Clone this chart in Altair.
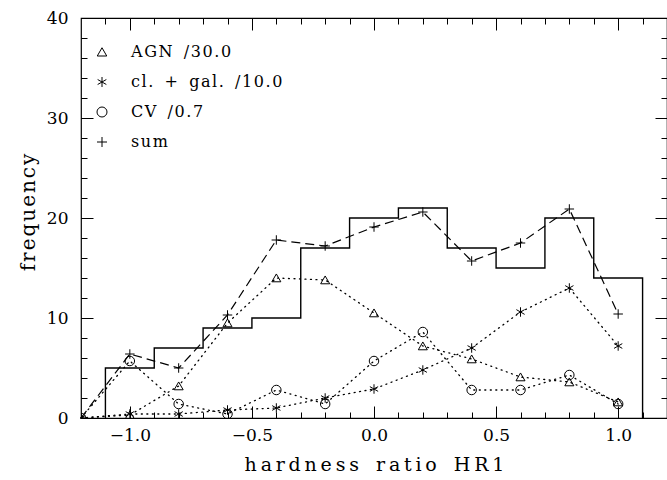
import altair as alt
import pandas as pd

# Hardness-ratio sampling points for the class curves
hr = [-1.2, -1.0, -0.8, -0.6, -0.4, -0.2, 0.0, 0.2, 0.4, 0.6, 0.8, 1.0]
agn = [0.0, 0.3, 3.2, 9.5, 14.0, 13.8, 10.5, 7.2, 5.9, 4.1, 3.6, 1.6]
clgal = [0.0, 0.4, 0.4, 0.8, 1.0, 2.0, 2.9, 4.8, 7.0, 10.6, 13.0, 7.2]
cv = [0.0, 5.7, 1.4, 0.4, 2.8, 1.4, 5.7, 8.6, 2.8, 2.8, 4.3, 1.4]
total = [0.0, 6.4, 5.0, 10.3, 17.8, 17.2, 19.1, 20.6, 15.7, 17.5, 20.9, 10.4]

# Observed histogram: bin edges and counts
edges = [-1.1, -0.9, -0.7, -0.5, -0.3, -0.1, 0.1, 0.3, 0.5, 0.7, 0.9, 1.1]
counts = [5, 7, 9, 10, 17, 20, 21, 17, 15, 20, 14]

series_names = ["AGN /30.0", "cl. + gal. /10.0", "CV /0.7", "sum"]

FONT = "DejaVu Serif"


def spaced(text, gap="\u2009", word="\u2002"):
    """Widen the tracking of a label: small gaps between letters, wide ones between words."""
    return gap.join(word if ch == " " else ch for ch in text)


labels = [spaced(s, "\u200a") for s in series_names]

# Outline of the histogram as a step line
hist_rows = [{"i": 0, "x": edges[0], "y": 0}]
for k, c in enumerate(counts):
    hist_rows.append({"i": k + 1, "x": edges[k], "y": c})
hist_rows.append({"i": len(counts) + 1, "x": edges[-1], "y": counts[-1]})
hist_rows.append({"i": len(counts) + 2, "x": edges[-1], "y": 0})
hist_df = pd.DataFrame(hist_rows)

rows = []
for name, vals in zip(labels, [agn, clgal, cv, total]):
    for x, y in zip(hr, vals):
        rows.append({"series": name, "x": x, "y": y})
curves = pd.DataFrame(rows)
SUM = labels[3]

xs = alt.Scale(domain=[-1.2, 1.2], nice=False, zero=False)
ys = alt.Scale(domain=[0, 40], nice=False, zero=True)

x_major = [-1.0, -0.5, 0.0, 0.5, 1.0]
x_minor = [round(-1.1 + 0.1 * k, 1) for k in range(23)]
y_major = [0, 10, 20, 30, 40]
y_minor = list(range(0, 41, 2))

common = dict(domain=False, grid=False, tickColor="black", tickWidth=1)

ax_bottom = alt.Axis(orient="bottom", values=x_major, format=".1f", offset=-12,
                     tickSize=12, labelPadding=9, labelFont=FONT, labelFontSize=17,
                     labelColor="black", title=spaced("hardness ratio HR1"),
                     titleFont=FONT, titleFontSize=19, titleFontWeight="normal",
                     titleColor="black", titlePadding=12, **common)
ax_bottom_minor = alt.Axis(orient="bottom", values=x_minor, offset=-6, tickSize=6,
                           labels=False, title=None, **common)
ax_top = alt.Axis(orient="top", values=x_major, offset=-12, tickSize=12,
                  labels=False, title=None, **common)
ax_top_minor = alt.Axis(orient="top", values=x_minor, offset=-6, tickSize=6,
                        labels=False, title=None, **common)

ax_left = alt.Axis(orient="left", values=y_major, format="d", offset=-12,
                   tickSize=12, labelPadding=13, labelFont=FONT, labelFontSize=17,
                   labelColor="black", title=spaced("frequency", "\u200a"),
                   titleFont=FONT, titleFontSize=20, titleFontWeight="normal",
                   titleColor="black", titlePadding=8, titleY=194, **common)
ax_left_minor = alt.Axis(orient="left", values=y_minor, offset=-6, tickSize=6,
                         labels=False, title=None, **common)
ax_right = alt.Axis(orient="right", values=y_major, offset=-12, tickSize=12,
                    labels=False, title=None, **common)
ax_right_minor = alt.Axis(orient="right", values=y_minor, offset=-6, tickSize=6,
                          labels=False, title=None, **common)

hist = alt.Chart(hist_df).mark_line(
    interpolate="step-after", color="black", strokeWidth=1.4
).encode(
    x=alt.X("x:Q", scale=xs, axis=ax_bottom),
    y=alt.Y("y:Q", scale=ys, axis=ax_left),
    order="i:Q",
)

sum_line = alt.Chart(curves).transform_filter(
    alt.datum.series == SUM
).mark_line(color="black", strokeWidth=1.2, strokeDash=[9, 5]).encode(
    x=alt.X("x:Q", scale=xs, axis=ax_bottom_minor),
    y=alt.Y("y:Q", scale=ys, axis=ax_left_minor),
)

dotted = alt.Chart(curves).transform_filter(
    alt.datum.series != SUM
).mark_line(color="black", strokeWidth=1.3, strokeDash=[1, 4.5], strokeCap="round").encode(
    x=alt.X("x:Q", scale=xs, axis=ax_top),
    y=alt.Y("y:Q", scale=ys, axis=ax_right),
    detail="series:N",
)

TRI = "M0,-0.85L0.95,0.8L-0.95,0.8Z"
AST = "M0,-1L0,1M-0.87,-0.5L0.87,0.5M-0.87,0.5L0.87,-0.5"
PLUS = "M-1,0L1,0M0,-1L0,1"

points = alt.Chart(curves).mark_point(
    filled=False, color="black", strokeWidth=1, size=90, opacity=1, clip=True
).encode(
    x=alt.X("x:Q", scale=xs, axis=ax_top_minor),
    y=alt.Y("y:Q", scale=ys, axis=ax_right_minor),
    shape=alt.Shape(
        "series:N",
        scale=alt.Scale(domain=labels, range=[TRI, AST, "circle", PLUS]),
        legend=alt.Legend(
            title=None, orient="none", legendX=13, legendY=26,
            labelFont=FONT, labelFontSize=16, labelColor="black", labelLimit=400,
            symbolSize=100, symbolStrokeWidth=1, symbolStrokeColor="black",
            symbolFillColor="transparent", rowPadding=14, labelOffset=21,
            padding=0,
        ),
    ),
)

chart = alt.layer(hist, sum_line, dotted, points).resolve_axis(
    x="independent", y="independent"
).properties(
    width=586, height=400,
    autosize=alt.AutoSizeParams(type="none"),
    padding={"left": 81, "top": 18, "right": 0, "bottom": 62},
    background="white",
).configure_view(stroke="black", strokeWidth=1.2)

chart.save("out.html", embed_options={"renderer": "svg", "actions": False})
